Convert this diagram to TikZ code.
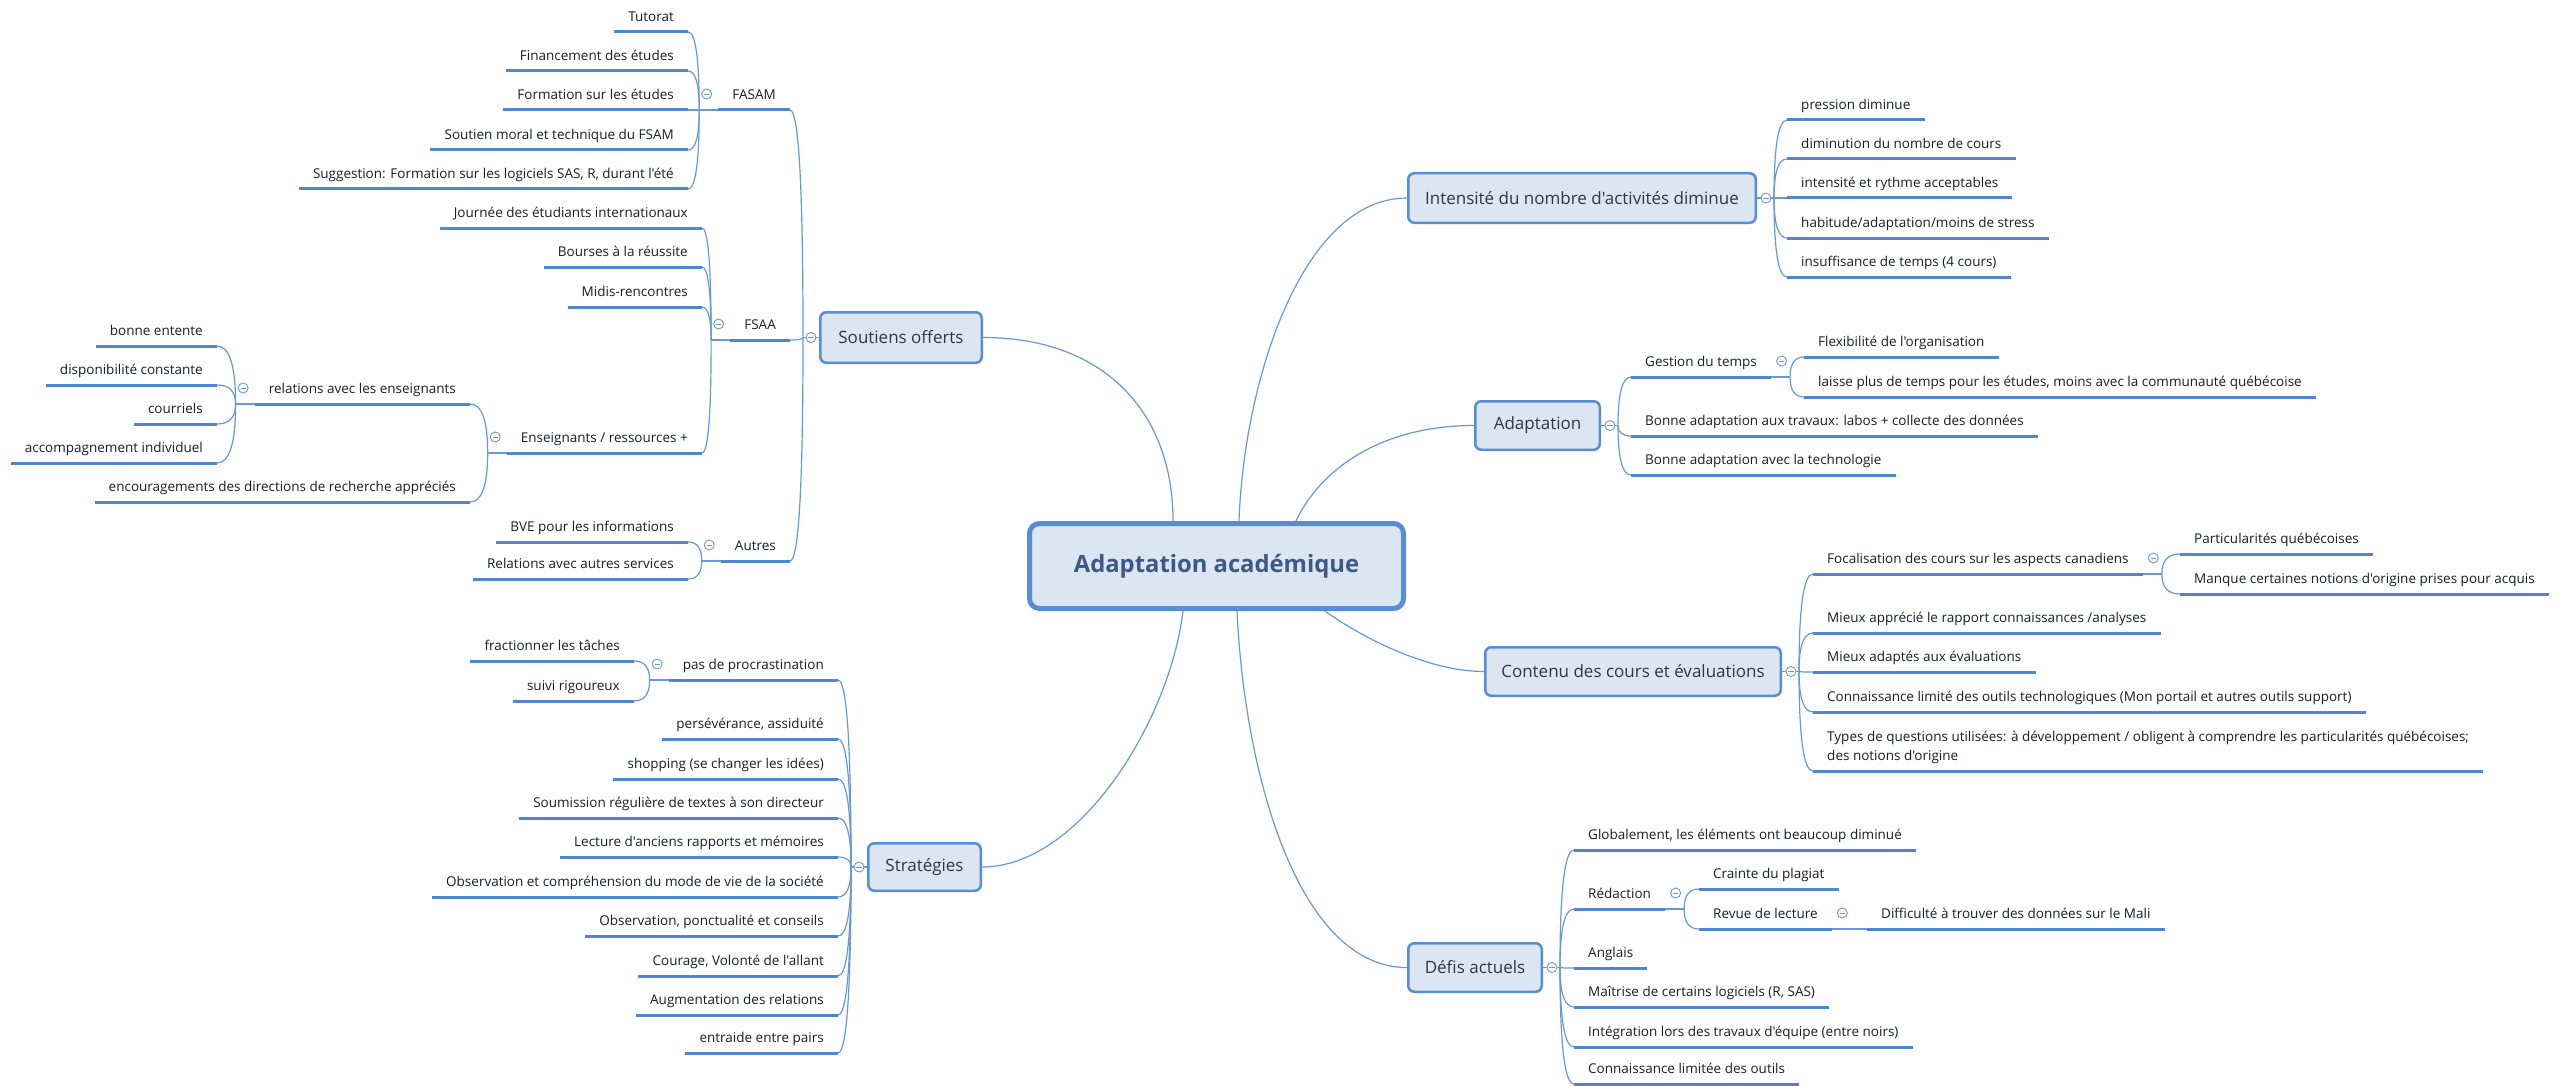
\documentclass[tikz,border=0pt]{standalone}
\usepackage{fontspec}
\setmainfont{Open Sans}[Ligatures=TeXOff]
\usetikzlibrary{calc}
\definecolor{lineblue}{RGB}{104,152,218}
\definecolor{ulblue}{RGB}{78,134,212}
\definecolor{boxborder}{RGB}{88,140,212}
\definecolor{boxfill}{RGB}{220,230,242}
\definecolor{txt}{RGB}{25,30,42}
\definecolor{boxtxt}{RGB}{45,55,72}
\definecolor{roottxt}{RGB}{60,90,135}
\newcommand{\leaffont}{\fontsize{13.5}{19.5}\selectfont}
\newcommand{\boxfont}{\fontsize{17}{20}\selectfont}
\newcommand{\rootfont}{\bfseries\fontsize{23.8}{28}\selectfont}
\tikzset{
  cline/.style={draw=lineblue, line width=1.2pt},
  uline/.style={draw=ulblue, line width=3pt},
  leafb/.style={font=\leaffont, text=txt, inner xsep=14pt, inner ysep=0pt, text depth=10pt},
  leaf/.style={leafb, text height=10pt},
  lft/.style={leaf, anchor=south east},
  rgt/.style={leaf, anchor=south west},
  topic/.style={rounded corners=6pt, draw=boxborder, line width=2.5pt, fill=boxfill, font=\boxfont, text=boxtxt, inner sep=0pt},
  rootbox/.style={rounded corners=10pt, draw=boxborder, line width=5pt, fill=boxfill, font=\rootfont, text=roottxt, inner sep=0pt, minimum width=374pt, minimum height=85pt},
  tog/.style={circle, draw=lineblue, line width=0.9pt, fill=white, minimum size=10pt, inner sep=0pt,
    path picture={\draw[lineblue, line width=0.8pt] ([xshift=-2.6pt]path picture bounding box.center) -- ([xshift=2.6pt]path picture bounding box.center);}},
  bez/.style={to path={.. controls ($(\tikztostart)!0.667!(\tikztostart |- \tikztotarget)$) and ($(\tikztotarget)!0.667!(\tikztostart |- \tikztotarget)$) .. (\tikztotarget)}}
}
\begin{document}
\begin{tikzpicture}[x=1pt,y=-1pt]
\useasboundingbox (0,0) rectangle (2569,1086);
\fill[white] (0,0) rectangle (2569,1086);

% central and main topics
\node[rootbox] (root) at (1216.5,566) {Adaptation académique};
\node[topic, minimum width=161.5pt, minimum height=50.5pt] (sou) at (901,337.5) {Soutiens offerts};
\node[topic, minimum width=112.5pt, minimum height=47.5pt] (str) at (924.5,867) {Stratégies};
\node[topic, minimum width=347.5pt, minimum height=49.5pt] (int) at (1582,198) {Intensité du nombre d'activités diminue};
\node[topic, minimum width=124.5pt, minimum height=48.5pt] (ada) at (1537.5,425.5) {Adaptation};
\node[topic, minimum width=295.5pt, minimum height=48.5pt] (con) at (1633,671.5) {Contenu des cours et évaluations};
\node[topic, minimum width=133.5pt, minimum height=48.5pt] (def) at (1475,967.5) {Défis actuels};

% Soutiens offerts
\node[lft] (fasam) at (790,110) {FASAM};
\node[lft] (fsaa) at (790,340) {FSAA};
\node[lft] (autres) at (790,561) {Autres};
\node[lft] (tut) at (688,32) {Tutorat};
\node[lft] (fin) at (688,71) {Financement des études};
\node[lft] (form) at (688,110) {Formation sur les études};
\node[lft] (sout) at (688,150) {Soutien moral et technique du FSAM};
\node[lft] (sugg) at (688,189) {Suggestion: Formation sur les logiciels SAS, R, durant l'été};
\node[lft] (jour) at (702,228) {Journée des étudiants internationaux};
\node[lft] (bour) at (702,267) {Bourses à la réussite};
\node[lft] (midi) at (702,307) {Midis-rencontres};
\node[lft] (ens) at (702,453) {Enseignants / ressources +};
\node[lft] (rel) at (470,404) {relations avec les enseignants};
\node[lft] (enc) at (470,502) {encouragements des directions de recherche appréciés};
\node[lft] (bon) at (217,346) {bonne entente};
\node[lft] (dispo) at (217,385) {disponibilité constante};
\node[lft] (cour) at (217,424) {courriels};
\node[lft] (acc) at (217,463) {accompagnement individuel};
\node[lft] (bve) at (688,542) {BVE pour les informations};
\node[lft] (ras) at (688,579) {Relations avec autres services};

% Strategies
\node[lft] (proc) at (838,680) {pas de procrastination};
\node[lft] (pers) at (838,739) {persévérance, assiduité};
\node[lft] (shop) at (838,779) {shopping (se changer les idées)};
\node[lft] (soum) at (838,818) {Soumission régulière de textes à son directeur};
\node[lft] (lect) at (838,857) {Lecture d'anciens rapports et mémoires};
\node[lft] (obs1) at (838,897) {Observation et compréhension du mode de vie de la société};
\node[lft] (obs2) at (838,936) {Observation, ponctualité et conseils};
\node[lft] (cou) at (838,976) {Courage, Volonté de l'allant};
\node[lft] (aug) at (838,1015) {Augmentation des relations};
\node[lft] (entr) at (838,1053) {entraide entre pairs};
\node[lft] (frac) at (634,661) {fractionner les tâches};
\node[lft] (suiv) at (634,701) {suivi rigoureux};

% Intensite
\node[rgt] (pres) at (1787,120) {pression diminue};
\node[rgt] (dimi) at (1787,159) {diminution du nombre de cours};
\node[rgt] (inte) at (1787,198) {intensité et rythme acceptables};
\node[rgt] (habi) at (1787,238) {habitude/adaptation/moins de stress};
\node[rgt] (insu) at (1787,277) {insuffisance de temps (4 cours)};

% Adaptation
\node[rgt] (gest) at (1631,377) {Gestion du temps};
\node[rgt] (btra) at (1631,436) {Bonne adaptation aux travaux: labos + collecte des données};
\node[rgt] (btec) at (1631,475) {Bonne adaptation avec la technologie};
\node[rgt] (flex) at (1804,357) {Flexibilité de l'organisation};
\node[rgt] (lais) at (1804,397) {laisse plus de temps pour les études, moins avec la communauté québécoise};

% Contenu
\node[rgt] (foca) at (1813,574) {Focalisation des cours sur les aspects canadiens};
\node[rgt] (mapp) at (1813,633) {Mieux apprécié le rapport connaissances /analyses};
\node[rgt] (mada) at (1813,672) {Mieux adaptés aux évaluations};
\node[rgt] (clt) at (1813,712) {Connaissance limité des outils technologiques (Mon portail et autres outils support)};
\node[leafb, anchor=south west, align=left] (type) at (1813,771) {Types de questions utilisées: à développement / obligent à comprendre les particularités québécoises;\\des notions d'origine};
\node[rgt] (part) at (2180,554) {Particularités québécoises};
\node[rgt] (manq) at (2180,594) {Manque certaines notions d'origine prises pour acquis};

% Defis
\node[rgt] (glob) at (1574,850) {Globalement, les éléments ont beaucoup diminué};
\node[rgt] (reda) at (1574,909) {Rédaction};
\node[rgt] (angl) at (1574,968) {Anglais};
\node[rgt] (mait) at (1574,1007) {Maîtrise de certains logiciels (R, SAS)};
\node[rgt] (inti) at (1574,1047) {Intégration lors des travaux d'équipe (entre noirs)};
\node[rgt] (clim) at (1574,1084) {Connaissance limitée des outils};
\node[rgt] (crai) at (1699,889) {Crainte du plagiat};
\node[rgt] (revu) at (1699,929) {Revue de lecture};
\node[rgt] (diff) at (1867,929) {Difficulté à trouver des données sur le Mali};

% junctions
\coordinate (jS) at ([xshift=-16pt]sou.west);
\coordinate (jSTR) at ([xshift=-16pt]str.west);
\coordinate (jINT) at ([xshift=17pt]int.east);
\coordinate (jADA) at ([xshift=17pt]ada.east);
\coordinate (jCON) at ([xshift=17pt]con.east);
\coordinate (jDEF) at ([xshift=17pt]def.east);
\foreach \p in {fasam,fsaa,autres,ens,rel,proc}
  \coordinate (j\p) at ([xshift=-19pt]\p.south west);
\foreach \p in {gest,foca,reda,revu}
  \coordinate (j\p) at ([xshift=19pt]\p.south east);

% main connectors
\draw[cline] (sou.east) .. controls +(120,0) and +(0,-110) .. ([xshift=-43.5pt]root.north);
\draw[cline] ([xshift=22.5pt]root.north) .. controls +(5,-140) and +(-105,0) .. (int.west);
\draw[cline] ([xshift=79.5pt]root.north) .. controls +(24,-51) and +(-94,0) .. (ada.west);
\draw[cline] ([xshift=108.5pt]root.south) .. controls +(30,22) and +(-60,0) .. (con.west);
\draw[cline] ([xshift=20.5pt]root.south) .. controls +(8,169) and +(-107,0) .. (def.west);
\draw[cline] ([xshift=-33.5pt]root.south) .. controls +(-13,109) and +(98,0) .. (str.east);

% parent to junction
\draw[cline] (sou.west) -- (jS);
\draw[cline] (str.west) -- (jSTR);
\draw[cline] (int.east) -- (jINT);
\draw[cline] (ada.east) -- (jADA);
\draw[cline] (con.east) -- (jCON);
\draw[cline] (def.east) -- (jDEF);
\foreach \p in {fasam,fsaa,autres,ens,rel,proc}
  \draw[cline] (\p.south west) -- (j\p);
\foreach \p in {gest,foca,reda,revu}
  \draw[cline] (\p.south east) -- (j\p);

% left connectors
\foreach \j/\c in {jS/fasam,jS/fsaa,jS/autres,
  jfasam/tut,jfasam/fin,jfasam/form,jfasam/sout,jfasam/sugg,
  jfsaa/jour,jfsaa/bour,jfsaa/midi,jfsaa/ens,
  jens/rel,jens/enc,
  jrel/bon,jrel/dispo,jrel/cour,jrel/acc,
  jautres/bve,jautres/ras,
  jSTR/proc,jSTR/pers,jSTR/shop,jSTR/soum,jSTR/lect,jSTR/obs1,jSTR/obs2,jSTR/cou,jSTR/aug,jSTR/entr,
  jproc/frac,jproc/suiv}
  \draw[cline] (\j) to[bez] (\c.south east);

% right connectors
\foreach \j/\c in {jINT/pres,jINT/dimi,jINT/inte,jINT/habi,jINT/insu,
  jADA/gest,jADA/btra,jADA/btec,
  jgest/flex,jgest/lais,
  jCON/foca,jCON/mapp,jCON/mada,jCON/clt,jCON/type,
  jfoca/part,jfoca/manq,
  jDEF/glob,jDEF/reda,jDEF/angl,jDEF/mait,jDEF/inti,jDEF/clim,
  jreda/crai,jreda/revu,
  jrevu/diff}
  \draw[cline] (\j) to[bez] (\c.south west);

% underlines
\foreach \n in {fasam,fsaa,autres,tut,fin,form,sout,sugg,jour,bour,midi,ens,rel,enc,bon,dispo,cour,acc,bve,ras,
  proc,pers,shop,soum,lect,obs1,obs2,cou,aug,entr,frac,suiv,
  pres,dimi,inte,habi,insu,gest,btra,btec,flex,lais,
  foca,mapp,mada,clt,type,part,manq,
  glob,reda,angl,mait,inti,clim,crai,revu,diff}
  \draw[uline] (\n.south west) -- (\n.south east);

% toggles
\node[tog] (tsou) at ([xshift=-8pt]sou.west) {};
\node[tog] (tstr) at ([xshift=-8pt]str.west) {};
\node[tog] (tint) at ([xshift=9pt]int.east) {};
\node[tog] (tada) at ([xshift=9pt]ada.east) {};
\node[tog] (tcon) at ([xshift=9pt]con.east) {};
\node[tog] (tdef) at ([xshift=9pt]def.east) {};
\foreach \p in {fasam,fsaa,autres,ens,rel,proc}
  \node[tog] (t\p) at ([xshift=-11.5pt,yshift=16pt]\p.south west) {};
\foreach \p in {gest,foca,reda,revu}
  \node[tog] (t\p) at ([xshift=10.5pt,yshift=16pt]\p.south east) {};
\end{tikzpicture}
\end{document}
